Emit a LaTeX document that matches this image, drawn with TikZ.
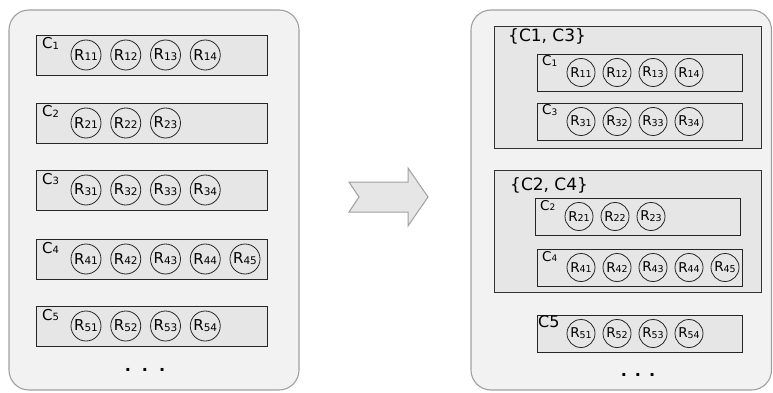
\documentclass[tikz,border=0pt]{standalone}
\usepackage{fontspec}
\setmainfont{DejaVu Sans}
\definecolor{panelfill}{HTML}{F2F2F2}
\definecolor{boxfill}{HTML}{E6E6E6}
\definecolor{panelline}{HTML}{A0A0A0}
\newcommand\subn[2]{\raisebox{-0.1ex}{\fontsize{#1}{#1}\selectfont #2}}
\begin{document}
\begin{tikzpicture}[x=1pt,y=-1pt,
  panelbox/.style={draw=panelline, fill=panelfill, line width=1.1pt, rounded corners=20pt},
  rowbox/.style={draw=black!85, fill=boxfill, line width=0.9pt, anchor=north west, inner sep=0pt},
  grpbox/.style={draw=black!80, fill=boxfill, line width=1pt, anchor=north west, inner sep=0pt, minimum width=267pt, minimum height=122pt},
  resL/.style={circle, draw=black!85, fill=boxfill, line width=0.8pt, minimum size=30pt, inner sep=0pt, font=\fontsize{15}{15}\selectfont},
  resR/.style={circle, draw=black!85, fill=boxfill, line width=0.8pt, minimum size=28pt, inner sep=0pt, font=\fontsize{13.5}{13.5}\selectfont},
  clabL/.style={anchor=base west, inner sep=0pt, font=\fontsize{15}{15}\selectfont},
  clabR/.style={anchor=base west, inner sep=0pt, font=\fontsize{13.5}{13.5}\selectfont},
  grplab/.style={anchor=base west, inner sep=0pt, font=\fontsize{17}{17}\selectfont},
  dotslab/.style={inner sep=0pt, font=\fontsize{16}{16}\selectfont\bfseries},
  bigarrow/.style={draw=panelline, fill=boxfill, line width=1pt, line join=miter}
]
\useasboundingbox (0,0) rectangle (773,393);

% left panel
\draw[panelbox] (9,10) rectangle (299,390);
\foreach \i/\t/\n in {1/35/4, 2/103/3, 3/170/4, 4/239/5, 5/306/4} {
  \node[rowbox, minimum width=231pt, minimum height=40pt] (L\i) at (36,\t) {};
  \node[clabL] (LC\i) at ({42},{\t+14}) {C\subn{10}{\i}};
  \foreach \j in {1,...,\n}
    \node[resL] (LR\i\j) at ({86+39.75*(\j-1)},{\t+20}) {R\subn{10.5}{\i\j}};
}
\node[dotslab] (Ldots) at (145,370) {.\hspace{11pt}.\hspace{11pt}.};

% arrow
\draw[bigarrow] (349,182) -- (408,182) -- (408,168) -- (428,197) -- (408,226)
  -- (408,212) -- (349,212) -- (359,197) -- cycle;

% right panel
\draw[panelbox] (471,10) rectangle (771.5,390);
\node[grpbox] (G1) at (494,26) {};
\node[grplab] (G1lab) at (508,42) {\{C1, C3\}};
\node[grpbox] (G2) at (494,170) {};
\node[grplab] (G2lab) at (510,190) {\{C2, C4\}};

\foreach \i/\x/\t/\n in {1/537/54/4, 3/537/103/4, 2/535/198/3, 4/537/249/5} {
  \node[rowbox, minimum width=205pt, minimum height=37pt] (R\i) at (\x,\t) {};
  \node[clabR] (RC\i) at ({\x+5},{\t+12}) {C\subn{9}{\i}};
  \foreach \j in {1,...,\n}
    \node[resR] (RR\i\j) at ({\x+44+36*(\j-1)},{\t+18.5}) {R\subn{9.5}{\i\j}};
}
\node[rowbox, minimum width=205pt, minimum height=37pt] (R5) at (537,315) {};
\node[anchor=base west, inner sep=0pt, font=\fontsize{16}{16}\selectfont] (RC5) at (538,327) {C5};
\foreach \j in {1,...,4}
  \node[resR] (RR5\j) at ({581+36*(\j-1)},{333.5}) {R\subn{9.5}{5\j}};
\node[dotslab] (Rdots) at (638,375) {.\hspace{8pt}.\hspace{8pt}.};
\end{tikzpicture}
\end{document}
